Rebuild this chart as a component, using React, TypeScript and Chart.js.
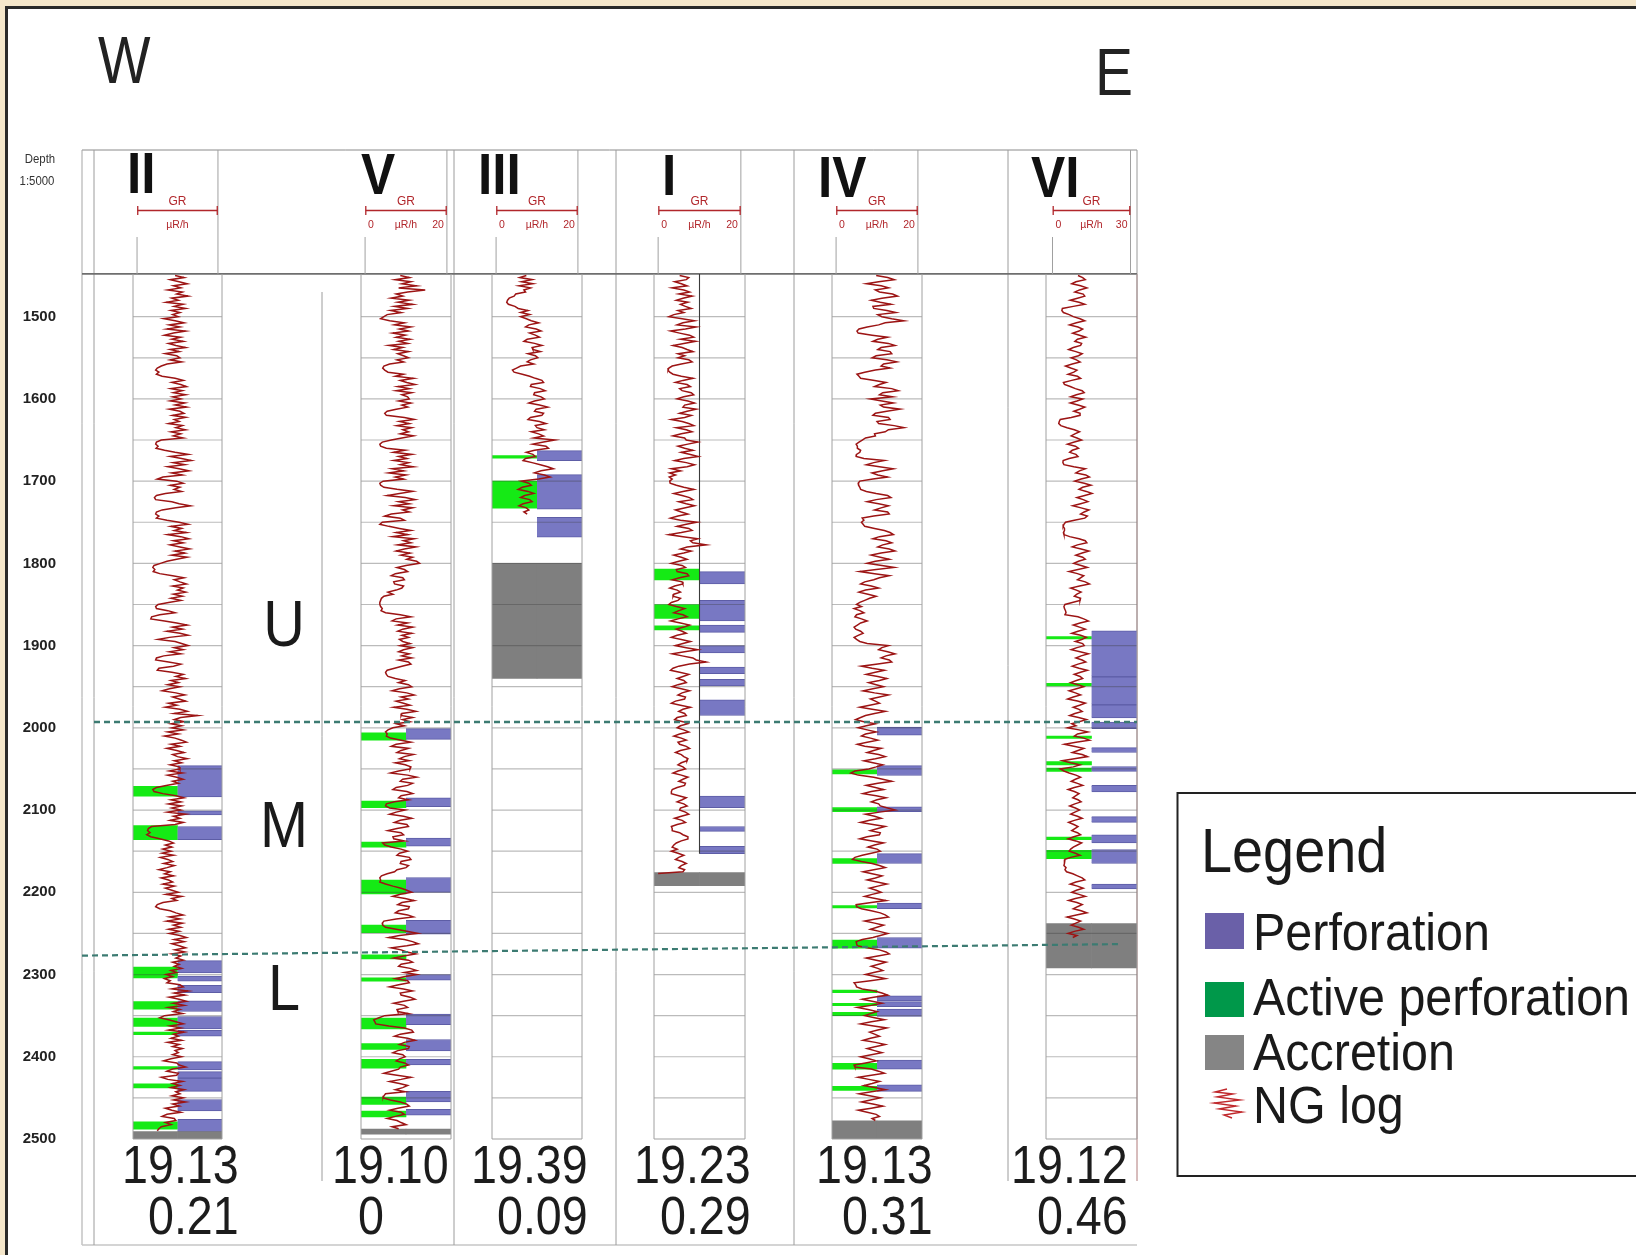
import React, { useEffect, useRef } from 'react';
import { Chart, registerables } from 'chart.js';

Chart.register(...registerables);

/* ---------------- data ---------------- */

// Wells along the W–E section
const WELLS = ['II', 'V', 'III', 'I', 'IV', 'VI'];
// Full-scale reading of each GR track (µR/h)
const GR_MAX = [20, 20, 20, 20, 20, 30];
const GR_SCALE_TEXT = [['', ''], ['0', '20'], ['0', '20'], ['0', '20'], ['0', '20'], ['0', '30']];
// Figures printed under each well
const WELL_VALUE_A = [19.13, 19.1, 19.39, 19.23, 19.13, 19.12];
const WELL_VALUE_B = [0.21, 0, 0.09, 0.29, 0.31, 0.46];

// Depth axis (m)
const DEPTH_TOP = 1448;
const DEPTH_BOTTOM = 2500;
const DEPTH_LABELS = [1500, 1600, 1700, 1800, 1900, 2000, 2100, 2200, 2300, 2400, 2500];
const DEPTH_GRID = [1500, 1550, 1600, 1650, 1700, 1750, 1800, 1850, 1900, 1950, 2000,
  2050, 2100, 2150, 2200, 2250, 2300, 2350, 2400, 2450];

// Zones and the correlated boundaries between them (depth at W and E end)
const ZONES = ['U', 'M', 'L'];
const ZONE_LABEL_DEPTH = [1900, 2145, 2343];
const BOUNDARY_WEST = [1993, 2277];
const BOUNDARY_EAST = [1993, 2263];

// Perforated intervals [top, bottom] (m)
const PERF_II = [[2046, 2084], [2101, 2106], [2120, 2136], [2283, 2298], [2302, 2308], [2313, 2322],
  [2332, 2345], [2351, 2366], [2368, 2375], [2406, 2416], [2418, 2426], [2426, 2442], [2452, 2466], [2476, 2491]];
const PERF_V = [[2001, 2014], [2085, 2096], [2134, 2144], [2182, 2200], [2234, 2251], [2300, 2307],
  [2348, 2361], [2379, 2393], [2403, 2410], [2442, 2455], [2464, 2471]];
const PERF_III = [[1663, 1675], [1692, 1734], [1744, 1768]];
const PERF_I = [[1810, 1825], [1845, 1870], [1875, 1884], [1900, 1909], [1926, 1934], [1941, 1949],
  [1966, 1985], [2083, 2097], [2120, 2126], [2144, 2153]];
const PERF_IV = [[1999, 2009], [2046, 2058], [2096, 2102], [2153, 2165], [2213, 2220], [2255, 2268],
  [2326, 2332], [2333, 2339], [2342, 2351], [2404, 2415], [2434, 2442]];
const PERF_VI = [[1882, 1938], [1938, 1972], [1972, 1988], [1993, 2001], [2024, 2030], [2047, 2053],
  [2070, 2078], [2108, 2115], [2130, 2140], [2148, 2165], [2190, 2196]];

// Active perforations [top, bottom] (m)
const ACTIVE_II = [[2071, 2083], [2119, 2136], [2291, 2304], [2333, 2342], [2353, 2363], [2370, 2373],
  [2412, 2415], [2433, 2438], [2479, 2488]];
const ACTIVE_V = [[2006, 2015], [2089, 2097], [2139, 2145], [2185, 2202], [2240, 2249], [2276, 2281],
  [2304, 2308], [2353, 2366], [2384, 2391], [2403, 2414], [2449, 2458], [2466, 2473]];
const ACTIVE_III = [[1669, 1672], [1700, 1733]];
const ACTIVE_I = [[1807, 1820], [1850, 1867], [1876, 1881]];
const ACTIVE_IV = [[2051, 2056], [2097, 2102], [2159, 2165], [2216, 2219], [2258, 2268], [2319, 2322],
  [2335, 2338], [2346, 2350], [2408, 2415], [2436, 2441]];
const ACTIVE_VI = [[1889, 1892], [1946, 1949], [2010, 2013], [2041, 2045], [2049, 2053], [2133, 2136], [2149, 2159]];

// Accretion intervals [top, bottom] (m)
const ACCR_II = [[2491, 2500]];
const ACCR_V = [[2488, 2494]];
const ACCR_III = [[1800, 1940]];
const ACCR_I = [[2176, 2192]];
const ACCR_IV = [[2478, 2500]];
const ACCR_VI = [[2238, 2292]];

// Natural gamma logs, one reading every LOG_STEP m from LOG_TOP (µR/h); 20 readings per 50 m row
const LOG_TOP = 1450;
const LOG_STEP = 2.5;
const GR_II = [
  9.4, 11.6, 8.2, 10.4, 12.4, 9.0, 10.8, 7.6, 11.2, 9.8, 12.6, 8.6, 10.2, 7.2, 11.4, 9.2, 12.0, 8.4, 10.6, 8.8,
  10.2, 6.6, 9.4, 11.6, 8.0, 10.6, 7.4, 12.0, 9.0, 6.8, 10.8, 8.6, 11.4, 7.8, 9.6, 12.0, 8.2, 10.4, 7.0, 9.8,
  10.6, 8.2, 11.0, 7.4, 6.0, 5.0, 4.6, 5.4, 4.8, 6.2, 9.4, 11.4, 8.6, 10.8, 12.2, 8.4, 11.2, 9.0, 12.0, 8.8,
  10.8, 8.2, 11.8, 9.4, 12.2, 8.0, 10.6, 11.6, 8.8, 12.0, 9.2, 10.4, 7.8, 11.2, 9.6, 12.0, 8.4, 10.8, 9.0, 11.4,
  6.0, 4.8, 4.6, 5.2, 4.7, 6.8, 9.4, 12.6, 8.2, 11.0, 13.4, 9.0, 11.8, 7.6, 10.4, 12.8, 8.6, 11.2, 6.4, 5.0,
  9.8, 11.4, 8.2, 10.6, 9.2, 11.0, 7.0, 4.8, 4.3, 4.6, 8.6, 10.4, 13.2, 9.6, 6.2, 4.8, 4.6, 5.4, 4.8, 7.4,
  10.4, 12.6, 8.4, 11.0, 9.2, 12.2, 7.6, 10.8, 12.8, 9.0, 11.4, 8.2, 10.6, 13.0, 9.4, 11.8, 8.6, 12.4, 9.8, 7.4,
  5.8, 4.2, 3.9, 4.4, 4.0, 5.6, 8.8, 11.6, 9.2, 10.6, 12.2, 8.8, 11.4, 10.0, 12.0, 9.0, 11.2, 8.4, 10.8, 7.8,
  5.2, 4.6, 4.8, 7.6, 9.4, 5.6, 3.6, 3.4, 6.8, 9.8, 12.4, 8.8, 11.2, 7.4, 10.6, 12.6, 8.0, 5.2, 9.4, 11.0,
  12.6, 9.2, 11.4, 8.0, 10.8, 6.6, 4.8, 4.6, 7.8, 10.8, 9.0, 5.4, 5.0, 8.6, 11.4, 9.6, 12.0, 8.4, 10.2, 7.6,
  10.6, 8.0, 6.2, 9.6, 11.8, 8.8, 10.4, 12.0, 7.8, 9.8, 7.0, 10.6, 12.4, 9.2, 15.0, 10.8, 9.2, 11.6, 8.4, 11.0,
  8.6, 11.4, 7.6, 10.2, 6.8, 9.4, 11.0, 12.2, 8.4, 10.6, 7.4, 9.8, 11.6, 8.8, 10.0, 12.4, 9.2, 11.0, 8.2, 10.4,
  10.6, 8.0, 11.2, 7.6, 9.8, 11.4, 8.8, 10.2, 7.2, 4.8, 3.9, 4.2, 6.4, 9.6, 11.6, 8.4, 10.8, 7.8, 11.0, 8.6,
  10.8, 7.6, 12.0, 9.0, 10.6, 8.2, 11.4, 9.4, 3.6, 2.8, 2.6, 3.2, 2.4, 3.4, 5.6, 7.8, 9.0, 7.0, 8.6, 6.4,
  8.4, 6.2, 9.0, 5.8, 7.6, 8.8, 6.6, 9.2, 7.4, 5.4, 8.2, 6.8, 9.0, 6.0, 7.8, 8.8, 6.4, 9.2, 7.0, 8.6,
  10.2, 7.2, 11.0, 8.6, 9.8, 6.4, 5.0, 4.6, 5.6, 8.2, 9.6, 11.4, 8.0, 10.6, 7.4, 11.2, 9.0, 10.8, 7.8, 10.4,
  8.0, 10.6, 12.2, 9.2, 11.6, 8.6, 10.4, 12.0, 9.4, 11.8, 8.6, 10.8, 9.6, 11.4, 8.8, 10.4, 9.2, 11.0, 8.4, 9.8,
  7.2, 8.8, 6.8, 8.2, 7.4, 10.6, 11.4, 8.6, 12.6, 9.2, 11.8, 8.0, 10.4, 12.2, 9.0, 11.6, 7.8, 10.6, 9.0, 11.2,
  6.8, 5.6, 7.8, 9.6, 11.4, 8.2, 10.8, 7.8, 11.6, 9.0, 10.2, 8.4, 11.0, 7.6, 10.4, 8.8, 11.2, 9.4, 10.2, 8.8,
  11.0, 8.4, 6.6, 9.8, 10.4, 12.0, 8.8, 7.4, 10.2, 9.8, 6.0, 7.6, 11.2, 8.8, 10.6, 8.4, 11.6, 9.6, 10.6, 8.6,
  11.4, 9.0, 12.0, 8.8, 10.4, 7.0, 8.6, 10.8, 7.4, 6.2, 9.2, 9.6, 7.0, 8.4, 6.0, 5.4, 5.0];
const GR_V = [
  8.6, 10.8, 7.4, 11.2, 9.0, 12.6, 8.2, 14.7, 10.4, 7.6, 9.2, 6.4, 10.8, 8.0, 11.6, 7.2, 10.4, 6.2, 8.8, 5.4,
  4.6, 3.8, 6.0, 9.6, 7.2, 11.2, 8.4, 10.6, 6.8, 9.8, 7.6, 11.0, 8.2, 10.4, 5.8, 9.2, 7.0, 10.6, 8.0, 9.4,
  10.6, 7.8, 9.4, 6.0, 4.6, 4.3, 4.8, 5.6, 9.4, 7.4, 11.8, 8.6, 10.2, 12.2, 8.0, 10.8, 7.6, 11.4, 9.0, 10.4,
  10.8, 8.2, 11.2, 9.0, 10.4, 7.6, 5.4, 4.8, 5.2, 9.6, 12.0, 8.4, 10.8, 7.8, 11.4, 9.2, 10.6, 8.6, 11.8, 9.0,
  6.4, 4.2, 3.6, 3.8, 5.2, 9.8, 7.0, 11.4, 8.2, 10.2, 7.0, 10.6, 8.6, 11.8, 6.6, 9.4, 5.8, 10.0, 7.4, 9.4,
  4.4, 3.6, 3.8, 4.6, 7.8, 11.6, 8.4, 5.4, 9.8, 12.2, 8.2, 10.8, 7.0, 11.6, 9.2, 10.8, 6.4, 4.8, 8.6, 9.6,
  4.2, 3.6, 5.8, 8.4, 11.2, 7.6, 10.4, 6.8, 12.0, 9.4, 11.2, 8.0, 12.4, 9.6, 7.6, 11.0, 8.8, 11.6, 10.2, 12.6,
  13.3, 10.0, 7.8, 9.6, 10.4, 7.4, 6.4, 9.2, 9.6, 7.0, 7.2, 9.4, 9.0, 7.6, 5.6, 6.8, 4.6, 4.0, 3.8, 3.6,
  3.6, 3.8, 4.2, 3.9, 5.0, 8.6, 11.2, 7.6, 6.6, 10.4, 8.0, 11.6, 9.2, 8.0, 11.4, 9.0, 10.6, 8.4, 9.2, 11.0,
  8.6, 11.6, 9.4, 8.2, 10.8, 9.0, 11.4, 8.2, 10.6, 11.2, 9.0, 7.2, 5.4, 5.0, 5.2, 5.6, 7.4, 9.8, 8.2, 10.6,
  11.4, 8.4, 6.6, 10.2, 12.0, 8.8, 10.6, 7.6, 9.4, 11.0, 7.0, 10.2, 12.4, 9.0, 8.8, 11.6, 9.2, 11.0, 7.6, 9.6,
  6.8, 5.6, 5.0, 5.4, 5.2, 6.2, 8.8, 11.2, 7.6, 6.4, 10.6, 8.8, 7.8, 11.8, 9.6, 8.4, 10.8, 7.4, 9.8, 11.2,
  11.0, 8.2, 6.2, 10.4, 12.6, 9.2, 8.6, 11.6, 10.4, 7.6, 6.8, 10.2, 11.6, 8.8, 8.2, 10.6, 7.2, 5.2, 5.0, 6.0,
  9.8, 7.6, 6.0, 9.4, 11.4, 8.6, 7.2, 10.2, 10.6, 7.8, 5.6, 8.8, 9.4, 6.8, 7.0, 9.6, 4.3, 4.8, 6.4, 8.8,
  10.4, 8.4, 7.8, 10.8, 11.2, 8.8, 8.6, 10.6, 10.0, 7.8, 7.2, 5.4, 4.0, 3.6, 3.8, 3.6, 5.0, 6.8, 8.8, 10.2,
  11.4, 8.6, 6.8, 9.8, 12.0, 9.0, 8.0, 10.8, 10.6, 8.2, 7.4, 10.4, 11.8, 7.6, 4.6, 4.2, 4.3, 5.0, 7.6, 10.2,
  12.8, 8.4, 5.8, 9.6, 11.6, 13.0, 10.2, 6.4, 8.8, 10.2, 12.4, 9.4, 7.0, 10.6, 11.6, 8.8, 8.2, 11.0, 12.6, 9.6,
  12.6, 9.8, 7.4, 10.4, 10.8, 8.2, 6.0, 9.4, 11.6, 8.6, 8.8, 11.0, 12.2, 9.4, 7.0, 9.6, 10.4, 7.8, 8.0, 10.6,
  4.8, 3.4, 2.1, 2.4, 2.6, 5.8, 9.6, 11.4, 11.8, 8.6, 7.2, 10.4, 12.2, 9.6, 8.4, 10.8, 10.6, 8.0, 6.8, 9.2,
  9.8, 8.4, 7.6, 9.6, 10.6, 8.6, 8.2, 6.4, 4.6, 7.8, 11.2, 8.8, 6.0, 8.4, 10.4, 9.2, 7.4, 9.8, 5.0, 4.6,
  4.4, 6.2, 8.6, 10.2, 10.8, 8.0, 6.0, 8.8, 9.6, 7.4, 5.4, 7.8, 8.8, 10.0, 6.6, 8.2];
const GR_III = [
  7.4, 5.8, 8.8, 6.2, 9.0, 5.6, 8.4, 6.8, 7.2, 4.8, 4.4, 3.2, 2.8, 2.6, 3.0, 4.6, 5.4, 7.8, 6.0, 8.2,
  6.0, 7.4, 8.6, 10.4, 8.0, 7.2, 9.8, 11.0, 8.2, 9.6, 10.6, 7.6, 6.8, 9.4, 11.2, 8.8, 9.0, 10.8, 7.8, 9.6,
  10.2, 8.4, 7.6, 9.2, 6.0, 5.0, 4.0, 4.4, 6.4, 8.2, 9.6, 11.2, 11.6, 8.6, 8.4, 10.8, 12.0, 9.4, 9.2, 11.0,
  11.8, 9.4, 8.0, 10.6, 12.6, 9.8, 9.4, 11.6, 11.2, 8.4, 7.8, 10.6, 12.2, 9.6, 10.0, 11.8, 8.6, 10.4, 11.6, 9.2,
  14.4, 11.6, 9.0, 12.2, 12.8, 9.4, 7.4, 9.0, 9.6, 7.2, 6.6, 8.8, 10.8, 12.6, 14.0, 11.0, 9.4, 11.8, 13.2, 10.4,
  6.2, 8.0, 8.6, 6.4, 5.4, 7.8, 9.2, 7.0, 6.0, 8.2, 8.8, 6.6, 5.6, 7.4, 8.0, 6.8, 7.6];
const GR_I = [
  5.2, 7.4, 6.8, 4.0, 5.6, 7.0, 3.4, 6.2, 7.6, 5.0, 8.2, 6.0, 4.4, 7.2, 5.4, 6.6, 8.0, 4.8, 6.2, 3.8,
  2.6, 5.8, 8.8, 6.0, 4.6, 9.2, 6.6, 3.0, 5.2, 7.6, 8.6, 5.4, 9.0, 6.2, 3.6, 5.8, 7.0, 8.4, 4.8, 6.4,
  4.8, 7.4, 8.2, 5.6, 3.4, 2.6, 2.4, 2.8, 3.6, 5.6, 8.4, 6.0, 4.2, 7.0, 7.8, 5.2, 5.8, 8.0, 8.6, 6.2,
  4.6, 7.2, 8.8, 6.4, 6.0, 9.2, 7.0, 5.2, 8.0, 6.4, 3.2, 5.8, 7.4, 8.6, 4.4, 6.8, 8.2, 5.6, 3.6, 6.4,
  6.8, 9.6, 7.2, 4.8, 6.4, 8.4, 5.6, 7.8, 9.7, 6.2, 4.0, 6.8, 8.8, 7.0, 3.2, 5.4, 2.8, 4.2, 2.7, 3.4,
  2.8, 2.9, 4.4, 6.2, 8.6, 6.0, 3.8, 5.8, 7.6, 8.4, 5.0, 6.8, 8.8, 6.6, 4.2, 5.6, 7.2, 4.8, 3.0, 5.4,
  9.4, 6.8, 4.6, 7.4, 8.2, 5.6, 2.6, 6.0, 9.6, 7.8, 8.4, 11.6, 7.0, 5.4, 8.0, 6.2, 3.8, 5.6, 7.0, 5.0,
  3.2, 5.8, 6.6, 4.4, 4.6, 7.0, 7.4, 5.2, 3.4, 5.8, 6.0, 4.0, 2.8, 4.6, 5.4, 3.8, 3.6, 5.4, 4.8, 3.2,
  2.6, 4.4, 6.4, 5.0, 3.8, 6.0, 7.0, 4.8, 3.0, 5.4, 7.6, 6.2, 4.4, 5.8, 6.8, 4.6, 3.2, 5.6, 7.8, 6.0,
  4.2, 6.8, 9.6, 6.4, 3.4, 5.8, 8.4, 9.2, 11.6, 7.6, 5.0, 3.6, 3.0, 5.2, 7.4, 6.0, 4.6, 6.2, 6.8, 4.8,
  3.4, 5.6, 7.6, 5.8, 4.8, 6.6, 6.4, 4.2, 3.2, 5.4, 7.8, 6.0, 5.0, 6.4, 6.8, 4.6, 4.0, 6.0, 7.2, 5.4,
  4.6, 6.2, 7.4, 5.2, 3.8, 5.6, 6.8, 4.8, 5.2, 6.8, 7.6, 5.4, 4.2, 5.6, 6.2, 7.2, 7.0, 5.6, 4.8, 6.0,
  6.6, 4.8, 3.6, 5.6, 7.2, 6.0, 5.0, 6.6, 6.4, 4.6, 3.4, 3.2, 3.2, 5.0, 6.8, 5.8, 4.6, 6.2, 7.0, 5.4,
  5.2, 6.6, 7.4, 5.6, 4.0, 5.8, 6.6, 4.6, 3.2, 3.4, 3.4, 5.2, 6.0, 7.2, 7.2, 5.6, 4.4, 3.8, 3.4, 4.6,
  3.2, 4.8, 6.2, 5.0, 4.2, 5.8, 6.8, 5.6, 5.0, 6.4, 6.0];
const GR_IV = [
  9.8, 12.6, 14.2, 10.4, 7.4, 11.0, 12.8, 9.6, 10.6, 13.8, 15.0, 11.2, 8.6, 10.8, 13.4, 9.0, 9.2, 12.4, 14.6, 10.2,
  11.2, 13.6, 16.6, 12.0, 10.4, 7.6, 5.6, 5.1, 5.4, 8.8, 12.6, 10.2, 9.0, 12.8, 14.4, 11.0, 10.2, 13.2, 13.6, 9.8,
  8.8, 12.4, 14.8, 11.6, 11.0, 13.2, 9.6, 7.0, 5.1, 5.6, 6.0, 9.4, 12.2, 10.6, 9.4, 13.6, 15.2, 11.4, 10.6, 13.8,
  8.4, 11.2, 14.0, 10.8, 11.6, 15.6, 12.4, 9.6, 9.0, 12.8, 13.2, 10.0, 10.4, 14.2, 16.6, 12.8, 12.0, 9.4, 9.6, 7.2,
  6.4, 5.6, 4.9, 5.2, 5.2, 6.0, 5.8, 5.0, 4.9, 6.8, 11.8, 9.2, 7.4, 10.6, 14.0, 11.4, 8.8, 10.2, 12.6, 9.0,
  5.8, 5.4, 5.5, 5.8, 6.0, 7.4, 9.8, 12.6, 13.4, 9.8, 7.6, 10.4, 12.8, 11.0, 9.4, 12.6, 13.0, 9.2, 6.4, 6.8,
  6.2, 6.6, 7.0, 9.4, 11.8, 13.2, 14.0, 10.6, 9.0, 12.2, 13.6, 11.4, 10.2, 13.0, 14.4, 11.0, 8.6, 10.8, 13.0, 9.6,
  7.6, 11.2, 14.2, 9.8, 5.8, 9.4, 13.0, 10.6, 9.2, 7.0, 6.0, 8.6, 10.4, 7.2, 5.6, 7.8, 9.8, 8.2, 7.0, 5.8,
  5.0, 6.2, 4.4, 5.8, 6.8, 5.0, 4.6, 6.2, 7.6, 6.0, 5.2, 4.4, 4.8, 6.0, 6.6, 5.4, 4.4, 5.0, 5.8, 7.6,
  12.8, 11.2, 10.4, 12.6, 14.4, 12.2, 11.0, 13.0, 13.6, 10.2, 6.2, 8.8, 11.8, 9.6, 7.4, 10.2, 12.4, 10.6, 8.0, 9.8,
  11.6, 9.0, 6.6, 9.4, 12.8, 10.6, 8.4, 9.6, 10.6, 8.2, 5.8, 8.8, 12.0, 9.4, 7.2, 6.0, 4.8, 6.8, 9.6, 7.4,
  5.4, 7.6, 9.8, 7.2, 6.2, 8.4, 10.2, 7.6, 5.2, 7.0, 11.0, 9.2, 7.6, 10.4, 12.0, 9.6, 6.8, 9.0, 11.4, 9.8,
  8.0, 4.6, 3.6, 5.4, 9.2, 11.4, 13.6, 10.2, 7.4, 9.6, 11.6, 8.6, 6.6, 9.8, 12.2, 10.0, 8.6, 10.4, 10.8, 12.6,
  14.4, 10.6, 7.2, 9.4, 11.0, 8.2, 6.0, 9.0, 12.0, 10.2, 8.4, 10.8, 10.6, 7.6, 5.8, 8.8, 11.6, 9.4, 7.8, 10.0,
  10.8, 8.6, 6.4, 4.6, 4.0, 6.2, 8.8, 10.6, 12.0, 9.2, 6.6, 8.8, 11.2, 9.6, 7.6, 10.0, 12.4, 10.2, 8.2, 9.8,
  11.0, 8.8, 7.0, 9.6, 12.2, 8.6, 4.9, 5.0, 6.2, 8.6, 10.8, 12.0, 12.8, 9.6, 7.0, 9.4, 11.6, 10.0, 8.4, 10.6,
  12.6, 10.8, 9.0, 6.4, 4.9, 5.0, 5.2, 7.6, 10.6, 12.2, 13.0, 10.2, 7.4, 9.8, 12.2, 10.4, 8.6, 10.2, 11.4, 9.2,
  7.2, 9.6, 12.0, 8.4, 4.4, 4.8, 5.0, 6.4, 9.4, 11.2, 12.6, 9.2, 6.4, 8.8, 11.2, 8.6, 5.2, 7.8, 10.0, 8.4,
  7.0, 9.4, 11.8, 8.6, 6.0, 9.2, 12.4, 10.2, 8.2, 9.4, 10.6, 8.4, 6.6, 9.6, 12.0, 9.8, 7.6, 9.4, 11.2, 8.6,
  6.0, 8.0, 9.8, 7.2, 4.4, 4.6, 8.6, 10.4, 11.8, 8.6, 5.4, 8.0, 10.6, 8.8, 6.8, 9.4, 12.0, 8.6, 5.6, 8.2,
  10.8, 8.4, 6.2, 9.0, 11.4, 8.6, 5.4, 7.6, 9.8, 10.6, 8.8, 9.6];
const GR_VI = [
  9.8, 11.6, 12.6, 9.0, 7.4, 10.8, 13.2, 10.4, 8.6, 11.8, 12.4, 9.6, 6.8, 10.2, 12.4, 8.0, 3.8, 3.6, 4.2, 6.4,
  8.0, 10.6, 12.4, 9.2, 6.6, 9.8, 11.6, 10.2, 7.8, 10.4, 12.8, 9.6, 8.6, 11.2, 10.8, 8.0, 6.2, 9.0, 11.4, 10.0,
  7.2, 9.2, 10.6, 7.6, 5.0, 7.0, 9.4, 8.2, 6.0, 9.6, 10.8, 7.4, 4.2, 4.6, 6.8, 8.8, 11.4, 12.2, 9.2, 7.0,
  11.6, 9.4, 6.8, 9.8, 12.4, 10.4, 8.2, 10.6, 10.6, 7.2, 3.0, 2.6, 2.4, 3.2, 5.6, 8.4, 10.4, 8.6, 7.2, 9.4,
  11.2, 8.4, 5.8, 8.8, 10.0, 7.6, 6.6, 9.0, 9.8, 6.4, 4.1, 4.0, 4.4, 8.2, 12.6, 10.4, 9.0, 12.8, 14.2, 11.0,
  8.6, 12.2, 14.8, 11.6, 10.2, 13.0, 15.2, 12.4, 9.4, 11.8, 13.6, 10.8, 7.8, 11.0, 14.0, 12.2, 10.8, 13.4, 12.4, 8.4,
  5.0, 4.4, 4.1, 4.6, 4.6, 4.2, 4.4, 6.6, 10.2, 12.6, 13.2, 9.6, 7.6, 11.0, 14.0, 11.4, 9.0, 11.6, 12.6, 10.0,
  8.2, 11.0, 13.4, 9.8, 6.4, 9.6, 12.0, 10.8, 9.6, 12.6, 14.2, 10.4, 7.0, 9.2, 11.0, 9.4, 8.4, 10.8, 10.6, 7.6,
  4.8, 4.4, 4.6, 5.0, 5.2, 4.8, 9.8, 12.0, 13.8, 10.6, 8.0, 10.4, 12.6, 9.8, 7.4, 10.8, 13.0, 11.2, 8.8, 11.6,
  12.2, 9.4, 7.2, 10.6, 13.8, 11.0, 9.0, 11.4, 12.8, 9.8, 7.6, 10.2, 13.4, 10.8, 8.4, 10.6, 11.6, 9.2, 7.0, 9.8,
  12.0, 9.2, 6.4, 8.8, 10.8, 8.0, 5.8, 9.6, 12.6, 10.4, 8.0, 10.2, 11.4, 8.6, 6.6, 10.0, 13.0, 10.2, 7.4, 9.0,
  5.8, 10.2, 13.6, 9.6, 8.4, 12.0, 14.2, 9.0, 4.6, 8.2, 12.0, 9.8, 7.6, 11.4, 13.4, 8.4, 3.8, 7.0, 10.6, 8.0,
  3.0, 4.4, 6.4, 9.0, 10.8, 8.8, 7.2, 9.6, 11.6, 8.4, 6.0, 8.4, 10.2, 9.0, 7.8, 9.8, 11.0, 8.6, 6.6, 8.8,
  10.4, 8.6, 7.0, 9.6, 11.4, 8.4, 6.2, 8.2, 9.8, 8.6, 7.4, 9.6, 10.8, 8.2, 6.0, 9.0, 11.2, 9.6, 8.0, 7.0,
  6.4, 8.8, 10.6, 7.0, 4.8, 4.6, 4.6, 4.4, 5.2, 4.8, 5.4, 7.8, 9.6, 11.4, 12.4, 9.0, 6.8, 9.6, 11.8, 9.2,
  7.4, 10.2, 12.6, 8.8, 6.2, 9.4, 11.4, 9.6, 8.0, 11.0, 13.2, 9.2, 5.6, 8.4, 10.8, 9.0, 7.2, 10.0, 12.0, 8.4,
  6.0, 9.4, 7.8];
// Where a log closes onto the track base: [depth m, GR]
const LOG_TAIL = [null, null, null, [2177, 0], null, null];

const PERFORATIONS = [PERF_II, PERF_V, PERF_III, PERF_I, PERF_IV, PERF_VI];
const ACTIVE = [ACTIVE_II, ACTIVE_V, ACTIVE_III, ACTIVE_I, ACTIVE_IV, ACTIVE_VI];
const ACCRETION = [ACCR_II, ACCR_V, ACCR_III, ACCR_I, ACCR_IV, ACCR_VI];
const GR_LOGS = [GR_II, GR_V, GR_III, GR_I, GR_IV, GR_VI];

/* ---------------- layout & style ---------------- */

const W = 1636;
const H = 1255;
const FONT = '"Liberation Sans", Arial, Helvetica, sans-serif';
const TRACK_X = [[133, 222], [361, 451], [492, 582], [654, 745], [832, 922], [1046, 1137]];
const NAME_POS = [[127, 193], [361, 194], [478, 194], [662, 195], [818, 197], [1031, 197]];
const VALUE_X = [122, 332, 471, 634, 816, 1011];
const HEADER_TOP = 150;
const FRAME_LEFT = 82;
const FRAME_RIGHT = 1137;
const FRAME_BOTTOM = 1245;
const COLUMN_LINES = [[94, 150, 1245], [322, 292, 1181], [454, 150, 1245], [616, 150, 1245], [794, 150, 1245], [1008, 150, 1181]];
const BOUNDARY_SPAN = [[94, 1137], [82, 1120]];
const BOUNDARY_WIDTH = [2.6, 2.2];

const RED = '#b1262b';
const LOG_COLOR = '#9c1414';
const PERF_FILL = '#7878c3';
const PERF_EDGE = '#5d5da6';
const ACTIVE_FILL = '#15ea15';
const ACCR_FILL = '#7f7f7f';
const BOUNDARY_COLOR = '#3c7b72';
const GRID_COLOR = 'rgba(60,60,60,0.35)';
const CATS = ['Active perforation', 'Perforation'];

/* ---------------- drawing helpers ---------------- */

function text(ctx: CanvasRenderingContext2D, s: string, x: number, y: number, size: number,
  o: { weight?: string; color?: string; sx?: number; align?: CanvasTextAlign } = {}) {
  ctx.save();
  ctx.font = `${o.weight || 'normal'} ${size}px ${FONT}`;
  ctx.fillStyle = o.color || '#1c1c1c';
  ctx.textAlign = o.align || 'left';
  ctx.textBaseline = 'alphabetic';
  ctx.translate(x, y);
  ctx.scale(o.sx ?? 1, 1);
  ctx.fillText(s, 0, 0);
  ctx.restore();
}

function vline(ctx: CanvasRenderingContext2D, x: number, y0: number, y1: number, color: string, w = 1) {
  ctx.save();
  ctx.strokeStyle = color;
  ctx.lineWidth = w;
  ctx.beginPath();
  ctx.moveTo(x, y0);
  ctx.lineTo(x, y1);
  ctx.stroke();
  ctx.restore();
}

function hline(ctx: CanvasRenderingContext2D, y: number, x0: number, x1: number, color: string, w = 1) {
  ctx.save();
  ctx.strokeStyle = color;
  ctx.lineWidth = w;
  ctx.beginPath();
  ctx.moveTo(x0, y);
  ctx.lineTo(x1, y);
  ctx.stroke();
  ctx.restore();
}

/* ---------------- plugins ---------------- */

// Places every well's GR and interval scales over its own track
const trackPlacement = {
  id: 'trackPlacement',
  afterLayout(chart: any) {
    WELLS.forEach((_, i) => {
      const [l, r] = TRACK_X[i];
      [`gr${i}`, `iv${i}`].forEach((id) => {
        const s = chart.scales[id];
        s.left = l;
        s.right = r;
        s.width = r - l;
        s.configure();
      });
    });
  },
};

// Page, section frame and track headers
const sectionFrame = {
  id: 'sectionFrame',
  beforeDraw(chart: any) {
    const { ctx, chartArea } = chart;
    const top = chartArea.top;
    ctx.save();
    ctx.fillStyle = '#f5e7cb';
    ctx.fillRect(0, 0, W, H);
    ctx.fillStyle = '#ffffff';
    ctx.fillRect(8, 9, W - 8, H - 9);
    ctx.strokeStyle = '#2a2a2a';
    ctx.lineWidth = 3;
    ctx.beginPath();
    ctx.moveTo(6.5, H);
    ctx.lineTo(6.5, 7.5);
    ctx.lineTo(W, 7.5);
    ctx.stroke();
    ctx.restore();

    text(ctx, 'W', 98, 83, 67, { sx: 0.83, color: '#222' });
    text(ctx, 'E', 1095, 95, 67, { sx: 0.85, color: '#222' });
    text(ctx, 'Depth', 40, 163, 12, { align: 'center', sx: 0.95, color: '#333' });
    text(ctx, '1:5000', 37, 185, 12, { align: 'center', sx: 0.95, color: '#333' });

    hline(ctx, HEADER_TOP, FRAME_LEFT, FRAME_RIGHT, '#8a8a8a');
    vline(ctx, FRAME_LEFT, HEADER_TOP, FRAME_BOTTOM, '#a5a5a5');
    hline(ctx, FRAME_BOTTOM, FRAME_LEFT, FRAME_RIGHT, '#c6c6c6', 1.5);
    vline(ctx, FRAME_RIGHT, HEADER_TOP, top, '#9a9a9a');
    vline(ctx, FRAME_RIGHT, top, 1181, '#b07a7a');
    COLUMN_LINES.forEach(([x, y0, y1]) => vline(ctx, x, y0, y1, '#9c9c9c'));
    hline(ctx, top, FRAME_LEFT, FRAME_RIGHT, '#6e6e6e', 1.6);

    WELLS.forEach((name, i) => {
      const s = chart.scales[`gr${i}`];
      const l = s.getPixelForValue(0);
      const r = s.getPixelForValue(GR_MAX[i]);
      const c = (l + r) / 2;
      vline(ctx, l, 237, top, '#a0a0a0');
      vline(ctx, r, HEADER_TOP, top, '#a0a0a0');
      text(ctx, name, NAME_POS[i][0], NAME_POS[i][1], 57, { weight: 'bold', sx: 0.9, color: '#111' });
      text(ctx, 'GR', c, 205, 13, { align: 'center', sx: 0.92, color: RED });
      ctx.save();
      ctx.strokeStyle = RED;
      ctx.lineWidth = 1.3;
      ctx.beginPath();
      ctx.moveTo(l, 210.5);
      ctx.lineTo(r, 210.5);
      ctx.moveTo(l + 0.7, 206);
      ctx.lineTo(l + 0.7, 215);
      ctx.moveTo(r - 0.7, 206);
      ctx.lineTo(r - 0.7, 215);
      ctx.stroke();
      ctx.restore();
      text(ctx, 'µR/h', c, 228, 10.5, { align: 'center', color: RED });
      const [lo, hi] = GR_SCALE_TEXT[i];
      if (lo) text(ctx, lo, l + 3, 228, 10.5, { color: RED });
      if (hi) text(ctx, hi, r - 3, 228, 10.5, { align: 'right', color: RED });
    });
  },
};

// Depth grid and track borders: above the interval bars, beneath the logs
const trackGrid = {
  id: 'trackGrid',
  beforeDatasetsDraw(chart: any) {
    chart.$gridDone = false;
  },
  beforeDatasetDraw(chart: any, args: any) {
    if (chart.$gridDone || args.meta.type !== 'line') return;
    chart.$gridDone = true;
    const { ctx, chartArea } = chart;
    const y = chart.scales.y;
    WELLS.forEach((_, i) => {
      const s = chart.scales[`gr${i}`];
      const l = s.left;
      const r = s.right;
      DEPTH_GRID.forEach((d) => hline(ctx, y.getPixelForValue(d), l, r, GRID_COLOR, 1.2));
      vline(ctx, l, chartArea.top, chartArea.bottom, '#a0a0a0');
      vline(ctx, r, chartArea.top, chartArea.bottom, '#a0a0a0');
      hline(ctx, chartArea.bottom, l, r, '#a0a0a0', 1.2);
    });
    // Well I: divider of the perforation column, down to its deepest perforation
    const iI = WELLS.indexOf('I');
    const s = chart.scales[`iv${iI}`];
    const deepest = Math.max(...PERFORATIONS[iI].map((p) => p[1]));
    vline(ctx, (s.left + s.right) / 2, chartArea.top, y.getPixelForValue(deepest), '#3a3a3a', 1.1);
  },
};

// Correlation lines, zone names, well figures and legend
const annotations = {
  id: 'annotations',
  afterDatasetsDraw(chart: any) {
    const { ctx } = chart;
    const y = chart.scales.y;

    BOUNDARY_WEST.forEach((dw, k) => {
      const [x0, x1] = BOUNDARY_SPAN[k];
      ctx.save();
      ctx.strokeStyle = BOUNDARY_COLOR;
      ctx.lineWidth = BOUNDARY_WIDTH[k];
      ctx.setLineDash([6, 4]);
      ctx.beginPath();
      ctx.moveTo(x0, y.getPixelForValue(dw));
      ctx.lineTo(x1, y.getPixelForValue(BOUNDARY_EAST[k]));
      ctx.stroke();
      ctx.restore();
    });

    ZONES.forEach((z, k) => {
      text(ctx, z, 284, y.getPixelForValue(ZONE_LABEL_DEPTH[k]), 64, { align: 'center', sx: 0.9, color: '#1a1a1a' });
    });

    WELLS.forEach((_, i) => {
      const size = 53;
      const sx = 0.88;
      text(ctx, WELL_VALUE_A[i].toFixed(2), VALUE_X[i], 1183, size, { sx });
      ctx.save();
      ctx.font = `normal ${size}px ${FONT}`;
      const shift = ctx.measureText('1').width * sx;
      ctx.restore();
      text(ctx, String(WELL_VALUE_B[i]), VALUE_X[i] + shift, 1234, size, { sx });
    });

    // Legend
    ctx.save();
    ctx.strokeStyle = '#222';
    ctx.lineWidth = 2;
    ctx.strokeRect(1177.5, 793, 520, 383);
    ctx.restore();
    text(ctx, 'Legend', 1201, 872, 63, { sx: 0.886, color: '#1a1a1a' });
    const items = [
      { label: 'Perforation', color: '#6a60a8', y: 913, h: 36, base: 950 },
      { label: 'Active perforation', color: '#00984a', y: 982, h: 35, base: 1015 },
      { label: 'Accretion', color: '#858585', y: 1035, h: 35, base: 1070 },
    ];
    items.forEach((it) => {
      ctx.fillStyle = it.color;
      ctx.fillRect(1205, it.y, 39, it.h);
      text(ctx, it.label, 1253, it.base, 51, { sx: 0.95, color: '#1a1a1a' });
    });
    const glyph = [[1227, 1089], [1215, 1092], [1233, 1094], [1217, 1097], [1240, 1100], [1214, 1103],
      [1236, 1106], [1219, 1109], [1242, 1112], [1224, 1115], [1232, 1118]];
    ctx.save();
    ctx.strokeStyle = '#c0282c';
    ctx.lineWidth = 1.4;
    ctx.beginPath();
    glyph.forEach(([gx, gy], k) => (k ? ctx.lineTo(gx, gy) : ctx.moveTo(gx, gy)));
    ctx.stroke();
    ctx.restore();
    text(ctx, 'NG log', 1253, 1123, 51, { sx: 0.95, color: '#1a1a1a' });
  },
};

/* ---------------- chart config ---------------- */

function buildConfig(): any {
  const datasets: any[] = [];
  const scales: any = {
    y: {
      type: 'linear',
      axis: 'y',
      position: 'left',
      reverse: true,
      min: DEPTH_TOP,
      max: DEPTH_BOTTOM,
      afterBuildTicks: (s: any) => {
        s.ticks = DEPTH_LABELS.map((v) => ({ value: v }));
      },
      afterFit: (s: any) => {
        s.width = 70;
      },
      ticks: {
        autoSkip: false,
        padding: 26,
        color: '#222',
        font: { family: FONT, size: 15, weight: 'bold' },
        callback: (v: any) => String(v),
      },
      grid: { display: false, drawTicks: false },
      border: { display: false },
    },
  };

  const barCommon = { type: 'bar', yAxisID: 'y', grouped: false, barPercentage: 1, categoryPercentage: 1, order: 1 };

  WELLS.forEach((_, i) => {
    scales[`gr${i}`] = { type: 'linear', axis: 'x', position: 'bottom', min: 0, max: GR_MAX[i], display: false };
    scales[`iv${i}`] = { type: 'category', axis: 'x', position: 'bottom', labels: CATS, offset: true, display: false };

    datasets.push({
      ...barCommon,
      label: 'Accretion',
      xAxisID: `iv${i}`,
      data: ACCRETION[i].flatMap(([a, b]) => CATS.map((c) => ({ x: c, y: [a, b] }))),
      backgroundColor: ACCR_FILL,
      borderWidth: 0,
    });
    datasets.push({
      ...barCommon,
      label: 'Perforation',
      xAxisID: `iv${i}`,
      data: PERFORATIONS[i].map(([a, b]) => ({ x: CATS[1], y: [a, b] })),
      backgroundColor: PERF_FILL,
      borderColor: PERF_EDGE,
      borderWidth: { top: 1, bottom: 1, left: 0, right: 0 },
      borderSkipped: false,
    });
    datasets.push({
      ...barCommon,
      label: 'Active perforation',
      xAxisID: `iv${i}`,
      data: ACTIVE[i].map(([a, b]) => ({ x: CATS[0], y: [a, b] })),
      backgroundColor: ACTIVE_FILL,
      borderWidth: 0,
    });

    const pts = GR_LOGS[i].map((v, k) => ({ x: v, y: LOG_TOP + k * LOG_STEP }));
    const tail = LOG_TAIL[i];
    if (tail) pts.push({ x: tail[1], y: tail[0] });
    datasets.push({
      type: 'line',
      label: 'NG log',
      xAxisID: `gr${i}`,
      yAxisID: 'y',
      indexAxis: 'y',
      data: pts,
      borderColor: LOG_COLOR,
      borderWidth: 1.5,
      borderJoinStyle: 'miter',
      pointRadius: 0,
      fill: false,
      tension: 0,
      order: 0,
    });
  });

  return {
    type: 'bar',
    data: { datasets },
    options: {
      responsive: false,
      animation: false,
      devicePixelRatio: 1,
      events: [],
      layout: { padding: { left: 12, top: 273.9, right: W - FRAME_RIGHT, bottom: H - 1139 } },
      plugins: { legend: { display: false }, tooltip: { enabled: false } },
      scales,
    },
    plugins: [trackPlacement, sectionFrame, trackGrid, annotations],
  };
}

export default function App() {
  const ref = useRef<HTMLCanvasElement | null>(null);
  useEffect(() => {
    const canvas = ref.current;
    if (!canvas) return;
    const chart = new Chart(canvas, buildConfig());
    return () => chart.destroy();
  }, []);
  return (
    <div style={{ position: 'absolute', left: 0, top: 0, width: W, height: H }}>
      <canvas ref={ref} width={W} height={H} style={{ display: 'block', width: W, height: H }} />
    </div>
  );
}
